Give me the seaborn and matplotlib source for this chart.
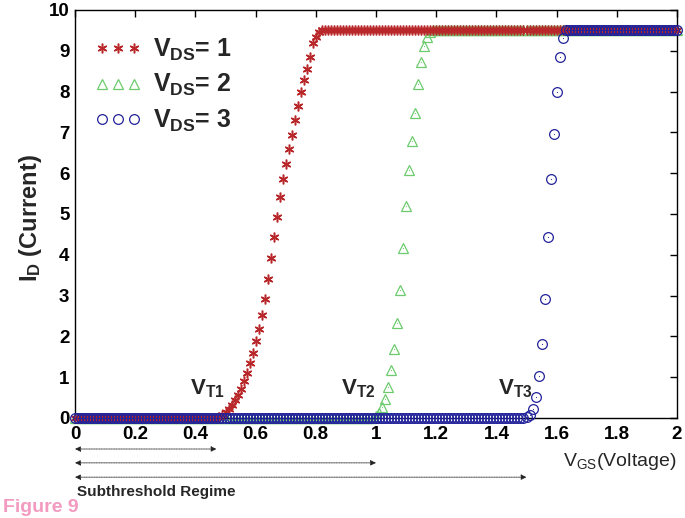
import numpy as np
import pandas as pd
import matplotlib
matplotlib.use("Agg")
import matplotlib.pyplot as plt
import seaborn as sns

# ---------------- data ----------------
vgs = np.round(np.arange(0, 2.0001, 0.01), 2)          # 0.00 .. 2.00 step 0.01

i_sat = 9.52
rise_vds1 = [0.01, 0.03, 0.08, 0.15, 0.23, 0.33, 0.44, 0.57, 0.72, 0.90,
             1.10, 1.35, 1.59, 1.88, 2.18, 2.52, 2.92, 3.40, 3.91, 4.43,
             4.93, 5.41, 5.85, 6.23, 6.59, 6.94, 7.30, 7.65, 8.00, 8.28,
             8.56, 8.85, 9.18, 9.35, 9.45, 9.50]            # VGS 0.47 .. 0.82
rise_vds2 = [0.01, 0.04, 0.12, 0.28, 0.46, 0.77, 1.18, 1.68, 2.32, 3.14,
             4.17, 5.20, 6.08, 6.80, 7.48, 8.18, 8.73, 9.12, 9.35, 9.45,
             9.50]                                          # VGS 0.99 .. 1.19
rise_vds3 = [0.02, 0.08, 0.21, 0.51, 1.04, 1.81, 2.91, 4.43, 5.85, 6.96,
             8.00, 8.84, 9.31, 9.51]                        # VGS 1.50 .. 1.63

id_vds1 = [0.0] * 47 + rise_vds1 + [i_sat] * 118
id_vds2 = [0.0] * 99 + rise_vds2 + [i_sat] * 81
id_vds3 = [0.0] * 150 + rise_vds3 + [i_sat] * 37

series_labels = [r"$\mathbf{V_{DS}}$= 1", r"$\mathbf{V_{DS}}$= 2", r"$\mathbf{V_{DS}}$= 3"]
vt_labels = [r"$\mathbf{V_{T1}}$", r"$\mathbf{V_{T2}}$", r"$\mathbf{V_{T3}}$"]
vt_pos = [0.383, 0.883, 1.405]
subthreshold_ends = [0.47, 1.0, 1.5]
xticks = [0, 0.2, 0.4, 0.6, 0.8, 1, 1.2, 1.4, 1.6, 1.8, 2]
xtick_labels = ["0", "0.2", "0.4", "0.6", "0.8", "1", "1.2", "1.4", "1.6", "1.8", "2"]
yticks = list(range(0, 11))

df = pd.DataFrame({
    "VGS": np.concatenate([vgs, vgs, vgs]),
    "ID": id_vds1 + id_vds2 + id_vds3,
    "VDS": ["1"] * len(vgs) + ["2"] * len(vgs) + ["3"] * len(vgs),
})

# ---------------- style ----------------
sns.set_theme(style="white")
plt.rcParams["font.family"] = ["Liberation Sans", "DejaVu Sans"]
plt.rcParams["mathtext.fontset"] = "custom"
plt.rcParams["mathtext.rm"] = "Liberation Sans"
plt.rcParams["mathtext.bf"] = "Liberation Sans:bold"
plt.rcParams["mathtext.it"] = "Liberation Sans:italic"

W, H = 685, 518
fig = plt.figure(figsize=(W / 100, H / 100), dpi=100)
ax = fig.add_axes([75 / W, 1 - 418 / H, (677 - 75) / W, (418 - 10) / H])

red = "#B8282A"
green = "#6CCB6C"
blue = "#22229A"

styles = {
    "2": dict(marker="^", ms=7, mfc="none", mec=green, mew=0.9, z=2),
    "1": dict(marker=(6, 2, 0), ms=7, mfc=red, mec=red, mew=1.1, z=3),
    "3": dict(marker="o", ms=7, mfc="none", mec=blue, mew=0.9, z=4),
}
handles = {}
for key in ["2", "1", "3"]:
    st = styles[key]
    sub = df[df["VDS"] == key]
    sns.lineplot(data=sub, x="VGS", y="ID", ax=ax, linestyle="none",
                 marker=st["marker"], ms=st["ms"], mfc=st["mfc"], mec=st["mec"],
                 mew=st["mew"], zorder=st["z"], estimator=None, sort=False,
                 clip_on=False)
    handles[key] = ax.lines[-1]
    if key in ("2", "3"):
        sns.lineplot(data=sub, x="VGS", y="ID", ax=ax, linestyle="none",
                     marker=".", ms=1.6, mfc=st["mec"], mec=st["mec"], mew=0,
                     zorder=st["z"], estimator=None, sort=False, clip_on=False)

ax.set_xlim(0, 2)
ax.set_ylim(0, 10)
ax.set_xticks(xticks)
ax.set_xticklabels(xtick_labels)
ax.set_yticks(yticks)
ax.tick_params(direction="in", length=5, width=1, top=True, right=True,
               labelsize=13.5, colors="black")
ax.tick_params(axis="x", pad=6)
ax.tick_params(axis="y", pad=4)
for lab in ax.get_xticklabels() + ax.get_yticklabels():
    lab.set_fontweight("bold")
for sp in ax.spines.values():
    sp.set_visible(True)
    sp.set_color("black")
    sp.set_linewidth(1)
ax.set_xlabel("")
ax.set_ylabel("")

leg = ax.legend([handles["1"], handles["2"], handles["3"]], series_labels,
                loc="upper left", bbox_to_anchor=(-0.005, 0.99), frameon=False,
                numpoints=3, handlelength=1.9, handletextpad=0.45,
                labelspacing=0.38, prop=dict(weight="bold", size=18))

# threshold labels
for xv, lab in zip(vt_pos, vt_labels):
    ax.text(xv, 0.45, lab, fontsize=16, fontweight="bold", ha="left", va="bottom")

# subthreshold arrows below the axis
arrow_y = [-0.76, -1.10, -1.45]
for xe, yy in zip(subthreshold_ends, arrow_y):
    ax.annotate("", xy=(xe, yy), xytext=(0, yy), xycoords="data",
                annotation_clip=False,
                arrowprops=dict(arrowstyle="<|-|>", color="#222222", lw=0.6,
                                linestyle=(0, (1, 1)), mutation_scale=8,
                                shrinkA=0, shrinkB=0))

# labels
fig.text(30 / W, 1 - 218 / H, r"$\mathbf{I_D}$ (Current)", rotation=90, ha="center",
         va="center", fontsize=17, fontweight="bold")
fig.text(676 / W, 1 - 462 / H, r"$\mathrm{V_{GS}}$(Voltage)", ha="right", va="center",
         fontsize=14)
fig.text(77 / W, 1 - 492 / H, "Subthreshold Regime", ha="left", va="center",
         fontsize=11, fontweight="bold")
fig.text(3 / W, 1 - 507 / H, "Figure 9", ha="left", va="center",
         fontsize=14, fontweight="bold", color="#F29AC0")

fig.savefig("out.png", dpi=100, facecolor="white")
